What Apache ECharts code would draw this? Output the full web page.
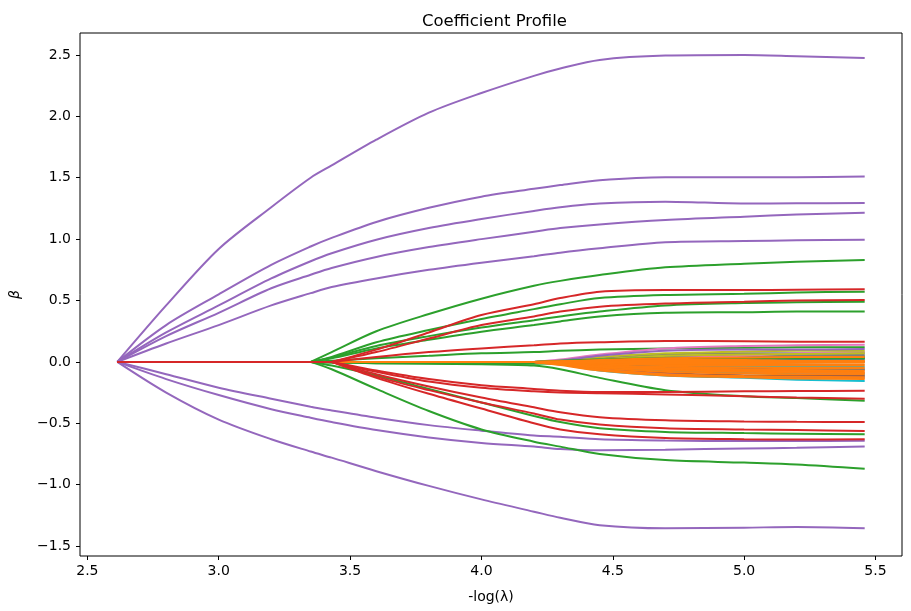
<!DOCTYPE html>
<html>
<head>
<meta charset="utf-8">
<script src="https://cdn.jsdelivr.net/npm/echarts@6/dist/echarts.min.js"></script>
<style>
html,body{margin:0;padding:0;background:#fff;}
#chart{width:911px;height:611px;}
</style>
</head>
<body>
<div id="chart"></div>
<script>
// -log(lambda) grid shared by all coefficient paths
const xGrid = [2.614, 2.8, 3.0, 3.2, 3.35, 3.43, 3.6, 3.8, 4.0, 4.2, 4.3, 4.45, 4.7, 5.0, 5.2, 5.459];
const xTicks = [2.5, 3.0, 3.5, 4.0, 4.5, 5.0, 5.5];
const yTicks = [-1.5, -1.0, -0.5, 0.0, 0.5, 1.0, 1.5, 2.0, 2.5];

// purple paths (enter first)
const purpleLines = [
  [0, 0.46, 0.92, 1.26, 1.50, 1.60, 1.81, 2.03, 2.19, 2.33, 2.39, 2.46, 2.495, 2.50, 2.49, 2.476],
  [0, 0.30, 0.55, 0.79, 0.94, 1.01, 1.14, 1.255, 1.346, 1.41, 1.44, 1.48, 1.505, 1.505, 1.505, 1.51],
  [0, 0.24, 0.46, 0.68, 0.82, 0.885, 0.995, 1.09, 1.164, 1.23, 1.26, 1.29, 1.305, 1.29, 1.292, 1.294],
  [0, 0.21, 0.40, 0.60, 0.71, 0.765, 0.855, 0.935, 1.0, 1.06, 1.09, 1.12, 1.156, 1.183, 1.20, 1.215],
  [0, 0.15, 0.30, 0.46, 0.56, 0.61, 0.68, 0.75, 0.808, 0.86, 0.89, 0.925, 0.975, 0.985, 0.99, 0.995],
  [0, -0.25, -0.47, -0.63, -0.73, -0.78, -0.89, -1.01, -1.12, -1.22, -1.27, -1.33, -1.355, -1.35, -1.345, -1.355],
  [0, -0.10, -0.21, -0.30, -0.365, -0.395, -0.455, -0.515, -0.56, -0.60, -0.61, -0.63, -0.64, -0.645, -0.645, -0.643],
  [0, -0.14, -0.27, -0.385, -0.455, -0.49, -0.555, -0.615, -0.66, -0.69, -0.71, -0.72, -0.715, -0.705, -0.70, -0.69]
];

// green paths
const greenLines = [
  [0, 0, 0, 0, 0, 0.08, 0.25, 0.39, 0.515, 0.62, 0.66, 0.708, 0.77, 0.80, 0.815, 0.83],
  [0, 0, 0, 0, 0, 0.04, 0.16, 0.26, 0.35, 0.43, 0.47, 0.52, 0.545, 0.555, 0.565, 0.572],
  [0, 0, 0, 0, 0, 0.035, 0.13, 0.21, 0.28, 0.34, 0.37, 0.41, 0.46, 0.48, 0.485, 0.49],
  [0, 0, 0, 0, 0, 0.03, 0.11, 0.18, 0.245, 0.30, 0.33, 0.37, 0.40, 0.405, 0.41, 0.41],
  [0, 0, 0, 0, 0, 0.01, 0.03, 0.05, 0.07, 0.08, 0.09, 0.10, 0.11, 0.115, 0.12, 0.12],
  [0, 0, 0, 0, 0, -0.06, -0.22, -0.40, -0.55, -0.65, -0.69, -0.75, -0.80, -0.82, -0.835, -0.87],
  [0, 0, 0, 0, 0, -0.03, -0.11, -0.22, -0.33, -0.44, -0.49, -0.54, -0.57, -0.58, -0.585, -0.59],
  [0, 0, 0, 0, 0, -0.005, -0.01, -0.015, -0.02, -0.03, -0.06, -0.13, -0.23, -0.28, -0.295, -0.316],
  [0, 0, 0, 0, 0, -0.005, -0.01, -0.012, -0.015, -0.015, -0.01, 0.0, 0.02, 0.03, 0.03, 0.03]
];

// red paths
const redLines = [
  [0, 0, 0, 0, 0, 0, 0.10, 0.24, 0.382, 0.47, 0.52, 0.572, 0.585, 0.585, 0.588, 0.591],
  [0, 0, 0, 0, 0, 0, 0.08, 0.19, 0.30, 0.37, 0.41, 0.45, 0.475, 0.49, 0.50, 0.504],
  [0, 0, 0, 0, 0, 0, 0.04, 0.08, 0.11, 0.135, 0.15, 0.16, 0.17, 0.168, 0.165, 0.165],
  [0, 0, 0, 0, 0, 0, -0.07, -0.14, -0.19, -0.22, -0.235, -0.245, -0.245, -0.24, -0.237, -0.235],
  [0, 0, 0, 0, 0, 0, -0.08, -0.16, -0.21, -0.24, -0.25, -0.255, -0.265, -0.28, -0.29, -0.30],
  [0, 0, 0, 0, 0, 0, -0.10, -0.20, -0.29, -0.37, -0.41, -0.45, -0.475, -0.485, -0.488, -0.49],
  [0, 0, 0, 0, 0, 0, -0.12, -0.23, -0.33, -0.42, -0.47, -0.51, -0.54, -0.55, -0.555, -0.562],
  [0, 0, 0, 0, 0, 0, -0.13, -0.26, -0.38, -0.50, -0.55, -0.59, -0.62, -0.63, -0.632, -0.63]
];

// late-entering small coefficients: values at the last 7 grid points (4.2 ... 5.459), zero before
const clusterGray = [
  [0, 0.01, 0.03, 0.06, 0.07, 0.07, 0.075],
  [0, 0.005, 0.02, 0.04, 0.05, 0.055, 0.06],
  [0, 0, 0.015, 0.03, 0.04, 0.045, 0.05],
  [0, 0, 0.005, 0.01, 0.015, 0.02, 0.035],
  [0, -0.005, -0.01, -0.015, -0.01, -0.005, 0.0],
  [0, 0.005, 0.02, 0.035, 0.04, 0.045, 0.045]
];
const clusterPink = [
  [0, 0.02, 0.06, 0.11, 0.13, 0.135, 0.14],
  [0, 0, 0.01, 0.03, 0.05, 0.07, 0.085],
  [0, -0.01, -0.03, -0.05, -0.06, -0.06, -0.065],
  [0, -0.015, -0.04, -0.07, -0.085, -0.09, -0.09]
];
const clusterCyan = [
  [0, -0.005, -0.02, -0.03, -0.035, -0.04, -0.04],
  [0, -0.01, -0.04, -0.07, -0.09, -0.10, -0.105],
  [0, -0.02, -0.07, -0.11, -0.13, -0.145, -0.155]
];
const clusterBlue = [
  [0, 0.005, 0.01, 0.02, 0.02, 0.02, 0.02],
  [0, -0.005, -0.02, -0.04, -0.05, -0.055, -0.06]
];
const clusterOlive = [
  [0, 0.01, 0.04, 0.07, 0.085, 0.09, 0.09],
  [0, 0.005, 0.02, 0.05, 0.06, 0.065, 0.07]
];
const clusterBrown = [
  [0, -0.02, -0.05, -0.09, -0.11, -0.115, -0.115]
];
const clusterPurple = [
  [0, 0.01, 0.05, 0.09, 0.10, 0.10, 0.105],
  [0, -0.02, -0.06, -0.10, -0.12, -0.125, -0.13]
];
const clusterGreen = [
  [0, 0.01, 0.02, 0.03, 0.03, 0.03, 0.03]
];
const clusterOrange = [
  [0, 0.005, 0.01, 0.015, 0.015, 0.01, 0.01],
  [0, -0.005, -0.01, -0.02, -0.02, -0.02, -0.02],
  [0, -0.01, -0.025, -0.04, -0.045, -0.05, -0.05],
  [0, -0.01, -0.035, -0.06, -0.07, -0.075, -0.08],
  [0, -0.015, -0.05, -0.08, -0.095, -0.10, -0.10],
  [0, -0.02, -0.06, -0.10, -0.115, -0.12, -0.125],
  [0, -0.025, -0.07, -0.11, -0.125, -0.135, -0.14],
  [0, 0.005, 0.015, 0.03, 0.035, 0.04, 0.04],
  [0, -0.005, -0.015, -0.025, -0.03, -0.03, -0.03],
  [0, 0, -0.005, -0.01, -0.01, -0.005, 0.005],
  [0, -0.01, -0.03, -0.05, -0.06, -0.065, -0.07],
  [0, -0.015, -0.04, -0.065, -0.08, -0.085, -0.09],
  [0, 0, 0, 0, 0, 0, 0]
];

const COL = {
  blue: '#1f77b4', orange: '#ff7f0e', green: '#2ca02c', red: '#d62728', purple: '#9467bd',
  brown: '#8c564b', pink: '#e377c2', gray: '#7f7f7f', olive: '#bcbd22', cyan: '#17becf'
};

function fullValues(vals) {
  const pad = xGrid.length - vals.length;
  return xGrid.map((x, i) => (i < pad ? 0 : vals[i - pad]));
}

// split a path into its flat (zero) part and its active part (from the entry point on)
function pushPath(list, vals, color) {
  const v = fullValues(vals);
  let k = v.findIndex(y => y !== 0);
  if (k === -1) {
    list.push(mk(v.map((y, i) => [xGrid[i], y]), color, false));
    return;
  }
  const entry = Math.max(k - 1, 0);
  if (entry > 0) {
    list.push(mk(v.slice(0, entry + 1).map((y, i) => [xGrid[i], y]), color, false));
  }
  list.push(mk(v.slice(entry).map((y, i) => [xGrid[i + entry], y]), color, true));
}

function mk(data, color, smooth) {
  return {
    type: 'line', data: data, symbol: 'none', silent: true, animation: false,
    smooth: smooth ? 0.3 : false,
    lineStyle: { color: color, width: 2 }, itemStyle: { color: color }
  };
}

const series = [];
purpleLines.forEach(v => pushPath(series, v, COL.purple));
greenLines.forEach(v => pushPath(series, v, COL.green));
[[clusterGray, COL.gray], [clusterPink, COL.pink], [clusterCyan, COL.cyan], [clusterBlue, COL.blue],
 [clusterOlive, COL.olive], [clusterBrown, COL.brown], [clusterPurple, COL.purple],
 [clusterGreen, COL.green], [clusterOrange, COL.orange]].forEach(([group, c]) => {
  group.forEach(v => pushPath(series, v, c));
});
redLines.forEach(v => pushPath(series, v, COL.red));

const fmt = v => {
  const s = Math.abs(v).toFixed(1);
  return (v < -1e-9 ? '\u2212' : '') + s;
};
const FONT = 'DejaVu Sans';

const chart = echarts.init(document.getElementById('chart'), null, { renderer: 'canvas' });
chart.setOption({
  animation: false,
  backgroundColor: '#ffffff',
  title: {
    text: 'Coefficient Profile', left: 489.5, top: 8, textAlign: 'center',
    textStyle: { fontFamily: FONT, fontSize: 16.5, fontWeight: 'normal', color: '#000' }
  },
  grid: {
    left: 77, right: 9, top: 33, bottom: 55, show: true,
    borderColor: '#000', borderWidth: 1, backgroundColor: 'transparent'
  },
  xAxis: {
    type: 'value', min: 2.472, max: 5.601,
    name: '-log(\u03bb)', nameLocation: 'middle', nameGap: 34,
    nameTextStyle: { fontFamily: FONT, fontSize: 14, color: '#000' },
    axisLine: { show: false, onZero: false },
    splitLine: { show: false },
    axisTick: { show: true, customValues: xTicks, length: 4, inside: false, lineStyle: { color: '#000', width: 1 } },
    axisLabel: { customValues: xTicks, formatter: fmt, margin: 8, fontFamily: FONT, fontSize: 14, color: '#000' }
  },
  yAxis: {
    type: 'value', min: -1.581, max: 2.679,
    name: '\u03b2', nameLocation: 'middle', nameGap: 58, nameRotate: 90,
    nameTextStyle: { fontFamily: FONT, fontSize: 14, fontStyle: 'italic', color: '#000' },
    axisLine: { show: false, onZero: false },
    splitLine: { show: false },
    axisTick: { show: true, customValues: yTicks, length: 4, inside: false, lineStyle: { color: '#000', width: 1 } },
    axisLabel: { customValues: yTicks, formatter: fmt, margin: 9, fontFamily: FONT, fontSize: 14, color: '#000' }
  },
  series: series
});
</script>
</body>
</html>
